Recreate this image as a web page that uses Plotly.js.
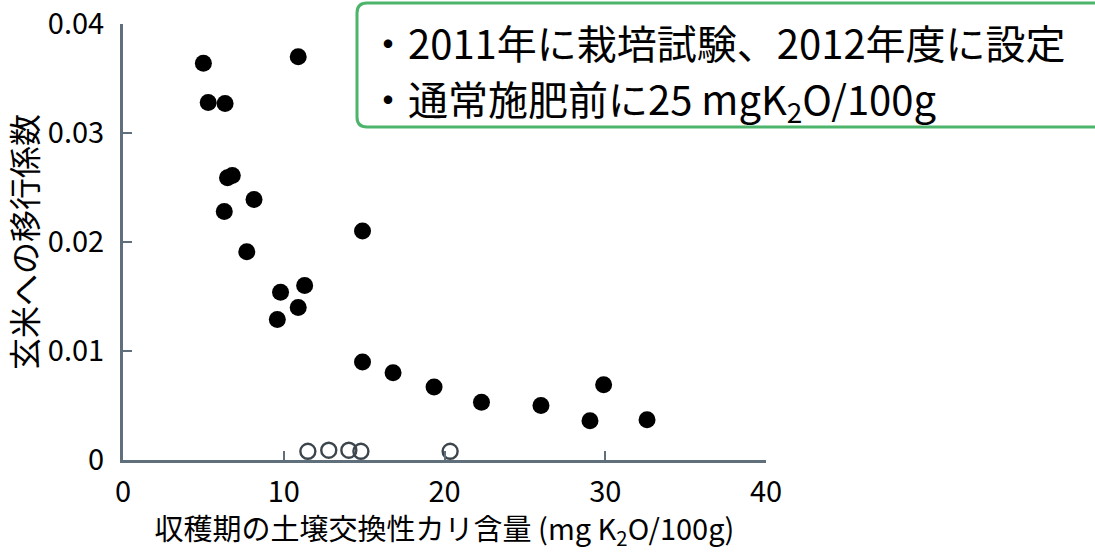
<!DOCTYPE html>
<html>
<head>
<meta charset="utf-8">
<script src="https://cdn.plot.ly/plotly-3.0.1.min.js"></script>
<style>
html,body{margin:0;padding:0;background:#fff;}
#chart{width:1095px;height:552px;}
</style>
</head>
<body>
<div id="chart"></div>
<script>
// Filled circles: measured points
var filledX = [5.0, 5.3, 6.35, 10.9, 6.5, 6.8, 6.3, 8.15, 7.7, 9.8, 9.6, 10.9, 11.3, 14.9, 14.9, 16.8, 19.35, 22.3, 26.0, 29.9, 29.05, 32.6];
var filledY = [0.0364, 0.0328, 0.0327, 0.0370, 0.0259, 0.0261, 0.0228, 0.0239, 0.0191, 0.0154, 0.0129, 0.0140, 0.0160, 0.0210, 0.0090, 0.0080, 0.0067, 0.0053, 0.0050, 0.0069, 0.0036, 0.0037];
// Open circles: points near zero
var openX = [11.5, 12.8, 14.05, 14.8, 20.35];
var openY = [0.0008, 0.0009, 0.0009, 0.0008, 0.0008];

var xTickVals = [0, 10, 20, 30, 40];
var xTickText = ['0', '10', '20', '30', '40'];
var yTickVals = [0, 0.01, 0.02, 0.03, 0.04];
var yTickText = ['0', '0.01', '0.02', '0.03', '0.04'];

var xTitle = '収穫期の土壌交換性カリ含量 (mg K<sub>2</sub>O/100g)';
var yTitle = '玄米への移行係数';
var noteLine1 = '・2011年に栽培試験、2012年度に設定';
var noteLine2 = '・通常施肥前に25 mgK<sub>2</sub>O/100g';

var FONT = '"Noto Sans CJK JP", "Noto Sans", sans-serif';
var axisColor = '#5f707c';
var green = '#4db56b';

var traces = [
  {
    x: filledX, y: filledY, type: 'scatter', mode: 'markers',
    marker: {size: 17, color: '#000', line: {width: 0}},
    cliponaxis: false, hoverinfo: 'skip'
  },
  {
    x: openX, y: openY, type: 'scatter', mode: 'markers',
    marker: {size: 15, symbol: 'circle-open', color: '#3c454c', line: {width: 2.4, color: '#3c454c'}},
    cliponaxis: false, hoverinfo: 'skip'
  }
];

// rounded box in paper coordinates
var L = 123, R = 766, T = 24, B = 460;
function px(x){ return (x - L) / (R - L); }
function py(y){ return (B - y) / (B - T); }
var bx0 = 357, bx1 = 1120, by0 = 3, by1 = 127, rad = 10;
var path = 'M ' + px(bx0 + rad) + ',' + py(by0) +
  ' L ' + px(bx1) + ',' + py(by0) +
  ' L ' + px(bx1) + ',' + py(by1) +
  ' L ' + px(bx0 + rad) + ',' + py(by1) +
  ' Q ' + px(bx0) + ',' + py(by1) + ' ' + px(bx0) + ',' + py(by1 - rad) +
  ' L ' + px(bx0) + ',' + py(by0 + rad) +
  ' Q ' + px(bx0) + ',' + py(by0) + ' ' + px(bx0 + rad) + ',' + py(by0) + ' Z';

var layout = {
  width: 1095, height: 552,
  margin: {l: L, r: 1095 - R, t: T, b: 552 - B, pad: 0},
  paper_bgcolor: '#fff', plot_bgcolor: '#fff',
  showlegend: false,
  font: {family: FONT, color: '#000'},
  xaxis: {
    range: [0, 40], showgrid: false, zeroline: false,
    showline: true, linecolor: axisColor, linewidth: 3,
    tickmode: 'array', tickvals: xTickVals, ticktext: xTickText,
    ticks: 'inside', ticklen: 9, tickwidth: 2, tickcolor: axisColor,
    tickfont: {size: 29, family: FONT, color: '#000'},
    ticklabelstandoff: 4,
    title: {text: xTitle, font: {size: 29, family: FONT, color: '#000'}, standoff: 10}
  },
  yaxis: {
    range: [0, 0.04], showgrid: false, zeroline: false,
    showline: true, linecolor: axisColor, linewidth: 3,
    tickmode: 'array', tickvals: yTickVals, ticktext: yTickText,
    ticks: 'inside', ticklen: 9, tickwidth: 2, tickcolor: axisColor,
    tickfont: {size: 29, family: FONT, color: '#000'},
    ticklabelstandoff: 10,
    title: {text: yTitle, font: {size: 32, family: FONT, color: '#000'}, standoff: 12}
  },
  shapes: [
    {type: 'path', xref: 'paper', yref: 'paper', path: path,
     line: {color: green, width: 3}, fillcolor: 'rgba(255,255,255,0)', layer: 'above'}
  ],
  annotations: [
    {xref: 'paper', yref: 'paper', x: px(366), y: py(42), xanchor: 'left', yanchor: 'middle',
     text: noteLine1, showarrow: false, font: {size: 40, family: FONT, color: '#000'}},
    {xref: 'paper', yref: 'paper', x: px(366), y: py(100), xanchor: 'left', yanchor: 'middle',
     text: noteLine2, showarrow: false, font: {size: 40, family: FONT, color: '#000'}}
  ]
};

Plotly.newPlot('chart', traces, layout, {displayModeBar: false, staticPlot: true});
</script>
</body>
</html>
